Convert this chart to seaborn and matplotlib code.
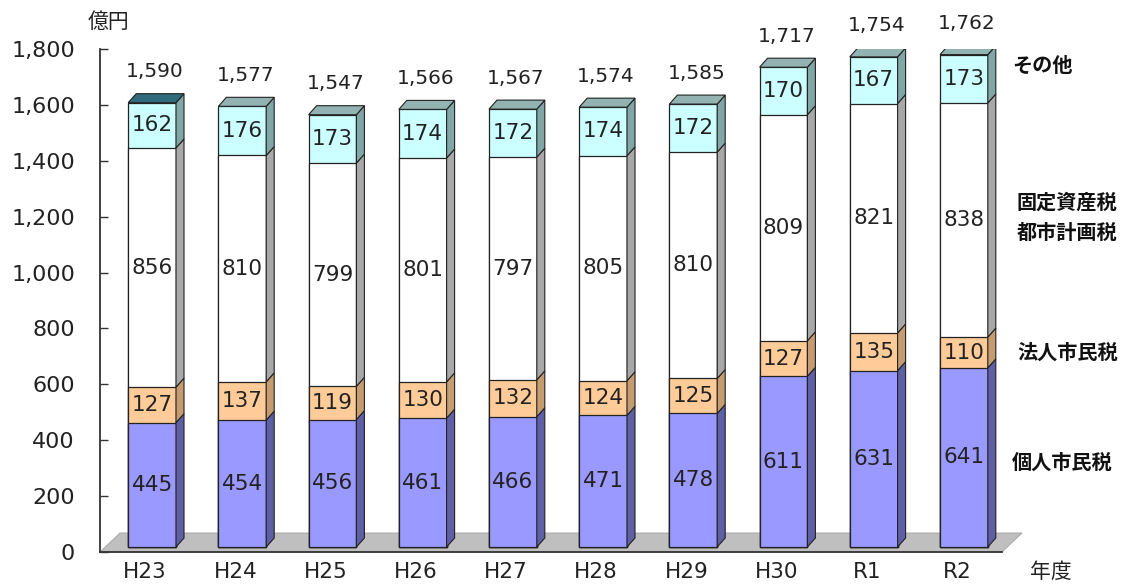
import numpy as np
import pandas as pd
import matplotlib
matplotlib.use("Agg")
import matplotlib.pyplot as plt
import seaborn as sns
from matplotlib.patches import Polygon
from matplotlib.transforms import ScaledTranslation, IdentityTransform
from matplotlib.ticker import FuncFormatter, FixedLocator

# data (億円)
years = ["H23", "H24", "H25", "H26", "H27", "H28", "H29", "H30", "R1", "R2"]
kojin = [445, 454, 456, 461, 466, 471, 478, 611, 631, 641]      # 個人市民税
hojin = [127, 137, 119, 130, 132, 124, 125, 127, 135, 110]      # 法人市民税
kotei = [856, 810, 799, 801, 797, 805, 810, 809, 821, 838]      # 固定資産税・都市計画税
sonota = [162, 176, 173, 174, 172, 174, 172, 170, 167, 173]     # その他
totals = [1590, 1577, 1547, 1566, 1567, 1574, 1585, 1717, 1754, 1762]

front_colors = ["#9999ff", "#ffcc99", "#ffffff", "#ccffff"]
side_colors = ["#5f5fa6", "#c49c70", "#a8a8a8", "#80a6a6"]
top_colors = ["#2f6b7c"] + ["#93b3b3"] * 9

sns.set_theme(style="white")
plt.rcParams['font.family'] = ['DejaVu Sans', 'Noto Sans CJK JP']

W, H = 1133, 586
fig = plt.figure(figsize=(W / 100, H / 100), dpi=100)
ax = fig.add_axes([100 / W, 1 - 552 / H, 902 / W, 503 / H])

stack = np.cumsum(np.array([kojin, hojin, kotei, sonota]), axis=0)
bw = 0.53

# stacked bars: tallest first, then overlay the lower sums
for lvl in reversed(range(4)):
    sns.barplot(x=years, y=stack[lvl], color=front_colors[lvl], saturation=1,
                width=bw, edgecolor="#222222", linewidth=0.9, ax=ax, zorder=3)

ax.set_xlim(-0.5, 9.5)
ax.set_ylim(0, 1800)

# shift the front faces a bit into the "depth" of the floor
fx, fy = 7, 5
off = ScaledTranslation(fx / 100, fy / 100, fig.dpi_scale_trans)
for p in ax.patches:
    p.set_transform(ax.transData + off)

# fake 3d: side and top faces
dx, dy = 8, 9
T = ax.transData
for i in range(len(years)):
    for lvl in range(4):
        y0 = stack[lvl - 1][i] if lvl > 0 else 0
        y1 = stack[lvl][i]
        p0, p1 = T.transform([(i + bw / 2, y0), (i + bw / 2, y1)]) + [fx, fy]
        side = [p0, p1, p1 + [dx, dy], p0 + [dx, dy]]
        ax.add_patch(Polygon(side, closed=True, facecolor=side_colors[lvl],
                             edgecolor="#222222", linewidth=0.8,
                             transform=IdentityTransform(), zorder=3))
    q0, q1 = T.transform([(i - bw / 2, stack[3][i]), (i + bw / 2, stack[3][i])]) + [fx, fy]
    top = [q0, q1, q1 + [dx, dy], q0 + [dx, dy]]
    ax.add_patch(Polygon(top, closed=True, facecolor=top_colors[i],
                         edgecolor="#222222", linewidth=0.8,
                         transform=IdentityTransform(), zorder=3))

# gray floor
f0, f1 = T.transform([(-0.5, 0), (9.5, 0)])
floor = [f0, f1, f1 + [20, 19], f0 + [20, 19]]
ax.add_patch(Polygon(floor, closed=True, facecolor="#bfbfbf", edgecolor="#a0a0a0",
                     linewidth=0.6, transform=IdentityTransform(), zorder=1,
                     clip_on=False))

# labels inside segments
for i in range(len(years)):
    for lvl in range(4):
        y0 = stack[lvl - 1][i] if lvl > 0 else 0
        y1 = stack[lvl][i]
        ax.text(i, (y0 + y1) / 2, f"{y1 - y0}", ha="center", va="center",
                fontsize=15.5, color="#222222", transform=T + off, zorder=5)
    ax.text(i, totals[i], f"{totals[i]:,}", ha="center", va="center",
            fontsize=14.5, color="#222222",
            transform=T + ScaledTranslation(10 / 100, 36 / 100, fig.dpi_scale_trans))

# axes styling
sns.despine(ax=ax, top=True, right=True)
for s in ["left", "bottom"]:
    ax.spines[s].set_color("#333333")
    ax.spines[s].set_linewidth(1.3)
ax.set_yticks(range(0, 1801, 200))
ax.yaxis.set_major_formatter(FuncFormatter(lambda v, _: f"{int(v):,}"))
ax.tick_params(axis="y", direction="in", length=6, width=1, color="#333333",
               left=True, pad=18, labelsize=16, labelcolor="#222222")
ax.tick_params(axis="x", length=0, pad=7, labelsize=15.5, labelcolor="#222222")
ax.xaxis.set_minor_locator(FixedLocator(np.arange(0.5, 9, 1)))
ax.tick_params(axis="x", which="minor", direction="in", length=5, width=1,
               color="#333333", bottom=True)
ax.set_xlabel("")
ax.set_ylabel("")

# series names on the right, units
lab_kw = dict(fontsize=14.5, fontweight="bold", color="#111111", va="center",
              family=['Noto Sans CJK JP', 'DejaVu Sans'])
fig.text(1012 / W, 1 - 65 / H, "その他", **lab_kw)
fig.text(1017 / W, 1 - 202 / H, "固定資産税", **lab_kw)
fig.text(1017 / W, 1 - 232 / H, "都市計画税", **lab_kw)
fig.text(1017 / W, 1 - 352 / H, "法人市民税", **lab_kw)
fig.text(1012 / W, 1 - 462 / H, "個人市民税", **lab_kw)
fig.text(88 / W, 1 - 22 / H, "億円", fontsize=15, color="#222222", va="center",
         family=['Noto Sans CJK JP', 'DejaVu Sans'])
fig.text(1030 / W, 1 - 572 / H, "年度", fontsize=15, color="#222222", va="center",
         family=['Noto Sans CJK JP', 'DejaVu Sans'])

fig.savefig("out.png", dpi=100)
